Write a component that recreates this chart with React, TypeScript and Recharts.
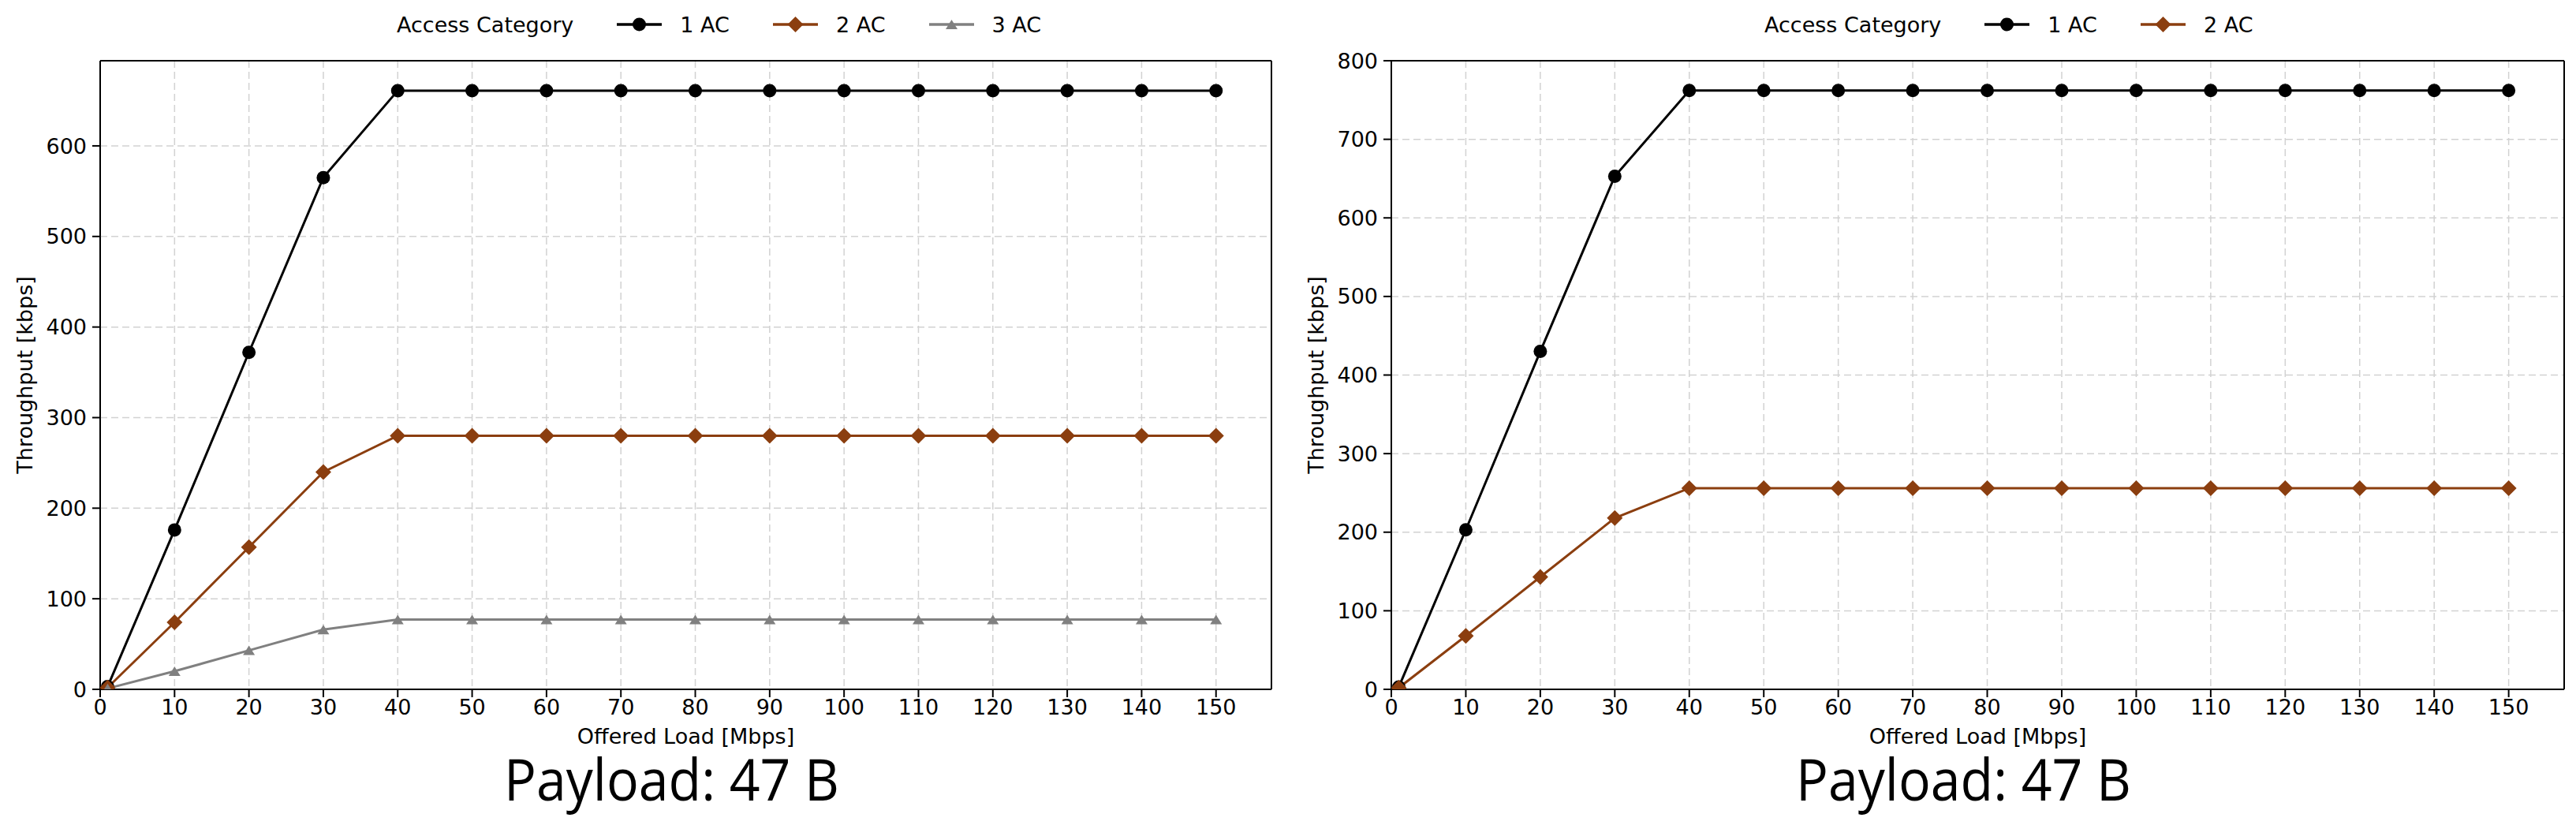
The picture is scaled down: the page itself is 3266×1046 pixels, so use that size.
import { LineChart, Line, XAxis, YAxis, CartesianGrid, ReferenceLine } from "recharts"

// offered load [Mbps] for every measurement point
const offeredLoad = [1, 10, 20, 30, 40, 50, 60, 70, 80, 90, 100, 110, 120, 130, 140, 150]

// left panel, throughput [kbps]
const leftAc1 = [3, 176, 372, 565, 661, 661, 661, 661, 661, 661, 661, 661, 661, 661, 661, 661]
const leftAc2 = [2, 74, 157, 240, 280, 280, 280, 280, 280, 280, 280, 280, 280, 280, 280, 280]
const leftAc3 = [1, 20, 43, 66, 77, 77, 77, 77, 77, 77, 77, 77, 77, 77, 77, 77]

// right panel, throughput [kbps]
const rightAc1 = [3, 203, 430, 653, 762, 762, 762, 762, 762, 762, 762, 762, 762, 762, 762, 762]
const rightAc2 = [2, 68, 143, 218, 256, 256, 256, 256, 256, 256, 256, 256, 256, 256, 256, 256]

const xTicks = [0, 10, 20, 30, 40, 50, 60, 70, 80, 90, 100, 110, 120, 130, 140, 150]
const leftYTicks = [0, 100, 200, 300, 400, 500, 600]
const rightYTicks = [0, 100, 200, 300, 400, 500, 600, 700, 800]

const seriesNames = ["1 AC", "2 AC", "3 AC"]
const captions = ["Payload: 47 B", "Payload: 47 B"]

const colors = ["#000000", "#8b3e0f", "#808080"]
const markers = ["circle", "diamond", "triangle"]

const X_MAX = 157.45
const FONT = "'DejaVu Sans', sans-serif"

const leftRows = offeredLoad.map((load, i) => ({ load, ac1: leftAc1[i], ac2: leftAc2[i], ac3: leftAc3[i] }))
const rightRows = offeredLoad.map((load, i) => ({ load, ac1: rightAc1[i], ac2: rightAc2[i] }))

function Marker({ kind, cx, cy, color }: { kind: string; cx: number; cy: number; color: string }) {
  if (kind === "diamond") {
    const r = 10
    return <polygon points={`${cx},${cy - r} ${cx + r},${cy} ${cx},${cy + r} ${cx - r},${cy}`} fill={color} />
  }
  if (kind === "triangle") {
    return <polygon points={`${cx},${cy - 6} ${cx + 7.5},${cy + 6} ${cx - 7.5},${cy + 6}`} fill={color} />
  }
  return <circle cx={cx} cy={cy} r={8.5} fill={color} />
}

function LegendBar({ left, count }: { left: number; count: number }) {
  return (
    <div
      style={{
        position: "absolute",
        left,
        top: 0,
        height: 62,
        display: "flex",
        alignItems: "center",
        fontFamily: FONT,
        fontSize: 27,
        color: "#000",
        whiteSpace: "nowrap",
      }}
    >
      <span>Access Category</span>
      {seriesNames.slice(0, count).map((name, i) => (
        <div key={name} style={{ display: "flex", alignItems: "center", marginLeft: 55 }}>
          <svg width={57} height={24} style={{ display: "block" }}>
            <line x1={0} y1={12} x2={57} y2={12} stroke={colors[i]} strokeWidth={3.5} />
            <Marker kind={markers[i]} cx={28.5} cy={12} color={colors[i]} />
          </svg>
          <span style={{ marginLeft: 23 }}>{name}</span>
        </div>
      ))}
    </div>
  )
}

function Panel({
  rows,
  count,
  yMax,
  yTicks,
  yAxisWidth,
  width,
  marginRight,
  yLabelX,
  caption,
}: {
  rows: any[]
  count: number
  yMax: number
  yTicks: number[]
  yAxisWidth: number
  width: number
  marginRight: number
  yLabelX: number
  caption: string
}) {
  const tickStyle = { fontSize: 27, fontFamily: FONT, fill: "#000" }
  const keys = ["ac1", "ac2", "ac3"].slice(0, count)

  const yLabel = (props: any) => {
    const vb = props.viewBox
    const cy = vb.y + vb.height / 2
    return (
      <text
        x={yLabelX}
        y={cy}
        transform={`rotate(-90 ${yLabelX} ${cy})`}
        textAnchor="middle"
        fontSize={27}
        fontFamily={FONT}
        fill="#000"
      >
        Throughput [kbps]
      </text>
    )
  }

  const xLabel = (props: any) => {
    const vb = props.viewBox
    const cx = vb.x + vb.width / 2
    return (
      <g>
        <text x={cx} y={vb.y + 69} textAnchor="middle" fontSize={27} fontFamily={FONT} fill="#000">
          Offered Load [Mbps]
        </text>
        <text
          x={cx - 18}
          y={vb.y + 141}
          textAnchor="middle"
          fontSize={73}
          fontFamily="'Open Sans', sans-serif"
          fill="#000"
          textLength={425}
          lengthAdjust="spacingAndGlyphs"
        >
          {caption}
        </text>
      </g>
    )
  }

  return (
    <LineChart width={width} height={1046} data={rows} margin={{ top: 77, right: marginRight, bottom: 0, left: 0 }}>
      <CartesianGrid stroke="#d2d2d2" strokeWidth={1.5} strokeDasharray="9 5" />
      <XAxis
        dataKey="load"
        type="number"
        domain={[0, X_MAX]}
        allowDataOverflow
        ticks={xTicks}
        height={172}
        tick={tickStyle}
        tickSize={10}
        tickMargin={3}
        axisLine={{ stroke: "#000", strokeWidth: 2 }}
        tickLine={{ stroke: "#000", strokeWidth: 2 }}
        label={{ content: xLabel }}
      />
      <YAxis
        type="number"
        domain={[0, yMax]}
        allowDataOverflow
        ticks={yTicks}
        width={yAxisWidth}
        tick={tickStyle}
        tickSize={10}
        tickMargin={7}
        axisLine={{ stroke: "#000", strokeWidth: 2 }}
        tickLine={{ stroke: "#000", strokeWidth: 2 }}
        label={{ content: yLabel }}
      />
      <ReferenceLine y={yMax} stroke="#000" strokeWidth={2} />
      <ReferenceLine x={X_MAX} stroke="#000" strokeWidth={2} />
      {keys.map((k, i) => (
        <Line
          key={k}
          dataKey={k}
          type="linear"
          stroke={colors[i]}
          strokeWidth={3}
          isAnimationActive={false}
          activeDot={false}
          dot={(p: any) => <Marker key={`${k}-${p.index}`} kind={markers[i]} cx={p.cx} cy={p.cy} color={colors[i]} />}
        />
      ))}
    </LineChart>
  )
}

export default function App() {
  return (
    <div style={{ position: "absolute", left: 0, top: 0, width: 3266, height: 1046, background: "#fff" }}>
      <div style={{ position: "absolute", left: 0, top: 0 }}>
        <Panel
          rows={leftRows}
          count={3}
          yMax={694}
          yTicks={leftYTicks}
          yAxisWidth={127}
          width={1632}
          marginRight={20}
          yLabelX={41}
          caption={captions[0]}
        />
      </div>
      <div style={{ position: "absolute", left: 1632, top: 0 }}>
        <Panel
          rows={rightRows}
          count={2}
          yMax={800}
          yTicks={rightYTicks}
          yAxisWidth={132}
          width={1634}
          marginRight={15}
          yLabelX={46}
          caption={captions[1]}
        />
      </div>
      <LegendBar left={503} count={3} />
      <LegendBar left={2237} count={2} />
    </div>
  )
}
